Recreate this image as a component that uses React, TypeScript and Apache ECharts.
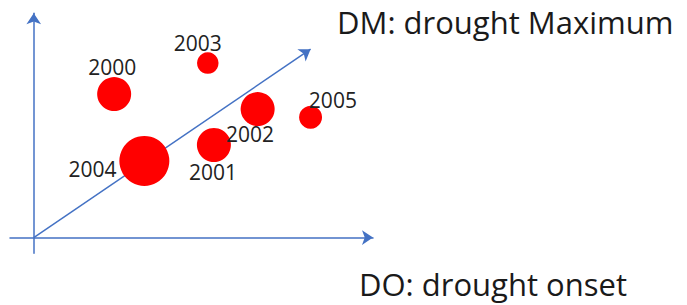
import React, { useEffect, useRef } from 'react';
import * as echarts from 'echarts';

// Data (abstract units: DO along x, DM along y)
const years = ['2000', '2001', '2002', '2003', '2004', '2005'];
const droughtOnset = [2.37, 5.31, 6.6, 5.13, 3.26, 8.16];
const droughtMaximum = [6.4, 4.13, 5.73, 7.78, 3.42, 5.36];
const bubbleSize = [34, 34, 34, 21.5, 50, 23];
const trendStart = [0, 0];
const trendEnd = [8.16, 8.4];
const titleDM = 'DM: drought Maximum';
const titleDO = 'DO: drought onset';

// Label placement (style)
const labelOffsets: Record<string, number[]> = {
  '2000': [-2, -27],
  '2001': [-1, 27.5],
  '2002': [-7.7, 24.5],
  '2003': [-10, -20],
  '2004': [-51.8, 8],
  '2005': [22.3, -17.6],
};

const FONT = '"Open Sans", "Noto Sans", sans-serif';
const BLUE = '#4472C4';

export default function App() {
  const ref = useRef<HTMLDivElement>(null);
  useEffect(() => {
    const chart = echarts.init(ref.current!, null, { renderer: 'svg' });
    const axisCommon = {
      type: 'value',
      min: -0.7,
      max: 10,
      axisLine: {
        show: true,
        onZero: true,
        symbol: ['none', 'arrow'],
        symbolSize: [11, 11],
        lineStyle: { color: BLUE, width: 1.5 },
      },
      axisTick: { show: false },
      axisLabel: { show: false },
      splitLine: { show: false },
    };
    chart.setOption({
      animation: false,
      backgroundColor: '#ffffff',
      grid: { left: 10, top: 13.3, width: 363, height: 240 },
      xAxis: { ...axisCommon },
      yAxis: { ...axisCommon },
      series: [
        {
          type: 'lines',
          coordinateSystem: 'cartesian2d',
          z: 1,
          symbol: ['none', 'arrow'],
          symbolSize: 11,
          lineStyle: { color: BLUE, width: 1.5, opacity: 1 },
          data: [{ coords: [trendStart, trendEnd] }],
        },
        {
          type: 'scatter',
          z: 2,
          symbol: 'circle',
          symbolSize: (v: number[]) => v[2],
          itemStyle: { color: '#FF0000', opacity: 1 },
          label: {
            show: true,
            position: 'inside',
            formatter: '{b}',
            fontFamily: FONT,
            fontSize: 21,
            color: '#222222',
          },
          data: years.map((y, i) => ({
            name: y,
            value: [droughtOnset[i], droughtMaximum[i], bubbleSize[i]],
            label: { offset: labelOffsets[y] },
          })),
        },
      ],
      graphic: [
        {
          type: 'text',
          x: 337,
          y: 22,
          style: {
            text: titleDM,
            font: `31px ${FONT}`,
            fill: '#1a1a1a',
            align: 'left',
            verticalAlign: 'middle',
          },
        },
        {
          type: 'text',
          x: 359,
          y: 284,
          style: {
            text: titleDO,
            font: `31px ${FONT}`,
            fill: '#1a1a1a',
            align: 'left',
            verticalAlign: 'middle',
          },
        },
      ],
    });
    return () => chart.dispose();
  }, []);
  return (
    <div
      ref={ref}
      style={{ position: 'fixed', left: 0, top: 0, width: 687, height: 305 }}
    />
  );
}
